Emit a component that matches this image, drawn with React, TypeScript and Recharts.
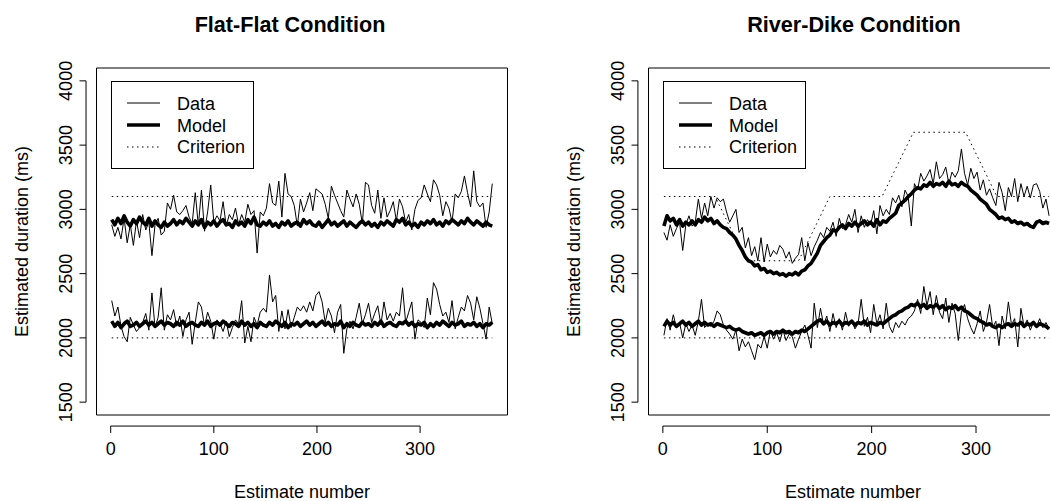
import React from "react";
import { LineChart, Line, XAxis, YAxis, ReferenceLine, ReferenceArea, Legend } from "recharts";

// estimates are numbered 1..370; data and model read every 3rd estimate
const DATA_STEP = 3;
const MODEL_STEP = 3;

const X_TICKS = [0, 100, 200, 300];
const Y_TICKS = [1500, 2000, 2500, 3000, 3500, 4000];

// ---- Flat-Flat condition ----
const FF_UP_DATA = [
  2880, 2790, 2860, 2770, 2930, 2740, 2880, 2720, 2910, 2780,
  2960, 2840, 2900, 2640, 2880, 2930, 2800, 2830, 3050, 3000,
  3110, 2980, 2960, 2990, 3030, 2940, 2890, 3130, 2870, 3150,
  2830, 2980, 3190, 2900, 2950, 2910, 3060, 2870, 2960, 2920,
  3010, 2880, 2960, 2900, 3040, 2960, 2990, 2660, 2980, 2950,
  3010, 3200, 3050, 3030, 3220, 2940, 3280, 3120, 3100, 3030,
  2870, 3080, 2980, 3050, 3130, 2990, 3160, 3140, 3120, 3040,
  2930, 3180, 3110, 3050, 2990, 2940, 3150, 3080, 3020, 3120,
  3040, 2890, 3210, 3190, 3030, 2970, 3150, 2930, 3090, 2940,
  2990, 3060, 2910, 3080, 3020, 2900, 2960, 2840, 3000, 3070,
  3090, 3190, 3120, 3060, 3230, 3190, 3110, 2950, 3060, 3010,
  2900, 3120, 3090, 3140, 3260, 3130, 3020, 3300, 3060, 3020,
  3050, 2860, 2980, 3200,
];
const FF_UP_MODEL = [
  2920, 2880, 2930, 2890, 2950, 2900, 2870, 2920, 2890, 2940,
  2900, 2880, 2930, 2870, 2910, 2880, 2860, 2900, 2870, 2890,
  2920, 2880, 2910, 2890, 2930, 2900, 2870, 2910, 2880, 2920,
  2860, 2900, 2880, 2910, 2870, 2900, 2920, 2880, 2890, 2860,
  2910, 2880, 2900, 2870, 2920, 2890, 2940, 2880, 2870, 2900,
  2880, 2910, 2870, 2890, 2860, 2900, 2880, 2910, 2870, 2890,
  2900, 2870, 2920, 2890, 2910, 2880, 2870, 2900, 2860, 2890,
  2920, 2880, 2900, 2870, 2890, 2910, 2870, 2900, 2880, 2860,
  2890, 2910, 2880, 2900, 2870, 2890, 2860, 2900, 2880, 2910,
  2890, 2870, 2920, 2900, 2930, 2880, 2900, 2870, 2890, 2860,
  2900, 2880, 2910, 2890, 2920, 2880, 2900, 2870, 2910, 2890,
  2920, 2900, 2880, 2910, 2890, 2930, 2900, 2880, 2910, 2890,
  2870, 2900, 2880, 2870,
];
const FF_LO_DATA = [
  2290, 2170, 2240, 2090, 2010, 1970, 2160, 2100, 2050, 2080,
  2120, 2190, 2060, 2350, 2080, 2160, 2390, 2060, 2180, 2140,
  2220, 2090, 2170, 2010, 2140, 2200, 1950, 2120, 2280, 2240,
  2090, 2200, 2130, 1990, 2140, 2110, 2050, 2130, 2010, 2080,
  2140, 2110, 2290, 1960, 2090, 1970, 2160, 2100, 2200, 2230,
  2200, 2490, 2280, 2330, 2050, 2210, 2070, 2220, 2080, 2160,
  2240, 2210, 2250, 2200, 2280, 2210, 2330, 2360, 2280, 2120,
  2230, 2170, 2040, 2200, 2260, 1880, 2070, 2130, 2070, 2160,
  2270, 2110, 2180, 2270, 2120, 2190, 2250, 2100, 2280, 2140,
  2190, 2130, 2200, 2170, 2390, 2120, 2200, 2280, 1990, 2140,
  2120, 2080, 2310, 2180, 2430, 2380, 2260, 2170, 2200, 2120,
  2290, 2070, 2160, 2240, 2210, 2330, 2270, 2140, 2320, 2230,
  2110, 1990, 2240, 2110,
];
const FF_LO_MODEL = [
  2130, 2090, 2120, 2080, 2110, 2130, 2090, 2100, 2120, 2090,
  2110, 2130, 2100, 2120, 2090, 2110, 2130, 2100, 2120, 2110,
  2090, 2120, 2100, 2130, 2090, 2110, 2120, 2100, 2090, 2120,
  2100, 2130, 2090, 2110, 2120, 2100, 2130, 2110, 2090, 2120,
  2110, 2090, 2130, 2100, 2120, 2090, 2110, 2080, 2120, 2100,
  2090, 2120, 2100, 2130, 2110, 2090, 2120, 2080, 2110, 2100,
  2120, 2090, 2110, 2130, 2100, 2120, 2090, 2110, 2130, 2100,
  2120, 2090, 2110, 2100, 2130, 2080, 2110, 2090, 2120, 2100,
  2090, 2120, 2100, 2110, 2090, 2120, 2100, 2130, 2090, 2110,
  2120, 2100, 2090, 2120, 2110, 2130, 2100, 2120, 2090, 2110,
  2100, 2120, 2080, 2110, 2090, 2120, 2100, 2130, 2110, 2090,
  2120, 2100, 2110, 2130, 2090, 2110, 2100, 2120, 2090, 2110,
  2080, 2110, 2100, 2120,
];
const FF_CRIT_X = [1, 370];
const FF_UP_CRIT = [3100, 3100];
const FF_LO_CRIT = [2000, 2000];

// ---- River-Dike condition ----
const RD_UP_DATA = [
  2820, 2760, 2880, 2790, 2850, 2900, 2680, 2880, 2950, 2870,
  2900, 3080, 2930, 3050, 2950, 3100, 3010, 3090, 3060, 3080,
  2980, 2900, 2950, 3000, 2820, 2860, 2700, 2780, 2640, 2710,
  2600, 2780, 2590, 2730, 2630, 2680, 2650, 2720, 2690, 2620,
  2670, 2580, 2620, 2650, 2780, 2600, 2740, 2640, 2710, 2760,
  2820, 2780, 2860, 2830, 2900, 2790, 2930, 2850, 2880, 2960,
  2900, 3000, 2820, 2950, 2860, 2920, 2880, 2990, 2810, 3030,
  2950, 3000, 2960, 3090, 3050, 3110, 3020, 3150, 3100, 2870,
  3200, 3150, 3280, 3220, 3260, 3310, 3200, 3370, 3240, 3270,
  3330, 3200, 3290, 3250, 3300, 3470, 3280, 3190, 3320, 3240,
  3290, 3150, 3230, 3110, 3160, 3090, 3030, 3210, 3130, 2990,
  3170, 3100, 3240, 3060, 3200, 3100, 3180, 3090, 3190, 3200,
  3140, 3010, 3080, 2950,
];
const RD_UP_MODEL = [
  2870, 2950, 2910, 2930, 2880, 2920, 2870, 2900, 2880, 2910,
  2880, 2920, 2900, 2940, 2910, 2930, 2890, 2910, 2880, 2860,
  2850, 2820, 2800, 2770, 2720, 2680, 2630, 2600, 2590, 2560,
  2570, 2530, 2540, 2510, 2520, 2500, 2510, 2490, 2500, 2480,
  2500, 2490, 2510, 2490, 2520, 2530, 2560, 2580, 2620, 2660,
  2720, 2750, 2780, 2800, 2840, 2830, 2860, 2880, 2850, 2890,
  2870, 2900, 2870, 2890, 2910, 2880, 2900, 2870, 2920, 2880,
  2910, 2900, 2930, 2950, 2970, 3030, 3050, 3070, 3100, 3120,
  3150, 3170, 3160, 3190, 3180, 3210, 3180, 3200, 3190, 3210,
  3180, 3220, 3190, 3200, 3180, 3210, 3190, 3180, 3150, 3130,
  3110, 3080, 3060, 3040, 3000, 2980, 2960, 2930, 2940, 2920,
  2930, 2900, 2910, 2890, 2900, 2880, 2890, 2870, 2860, 2900,
  2910, 2890, 2900, 2890,
];
const RD_LO_DATA = [
  2020, 2150, 2060, 2180, 2080, 2120, 2000, 2110, 2050, 2100,
  2020, 2130, 2300, 2080, 2110, 2090, 2130, 2210, 2180, 2100,
  2060, 2030, 1990, 2060, 1900, 1990, 1930, 1970, 1900, 1830,
  1950, 1920, 2010, 1920, 2060, 1990, 2040, 1970, 2060, 1980,
  2030, 2010, 1920, 1990, 2050, 2100, 2020, 1920, 2270, 2080,
  2230, 2100, 2170, 2050, 2190, 2080, 2150, 2060, 2200, 2090,
  2140, 2070, 2110, 2300, 2090, 2160, 2040, 2260, 2110, 2180,
  2070, 2270, 2090, 2040, 2120, 2080, 2130, 2100, 2150, 2170,
  2210, 2300, 2190, 2400, 2250, 2360, 2180, 2330, 2200, 2150,
  2310, 2120, 2270, 2190, 1980, 2200, 2260, 2150, 2080, 2030,
  2110, 2210, 2050, 2120, 2260, 2080, 2130, 1940, 2170, 2070,
  2280, 2100, 2150, 1930, 2230, 2090, 2140, 2060, 2120, 2090,
  2150, 2080, 2120, 2070,
];
const RD_LO_MODEL = [
  2090, 2130, 2100, 2120, 2090, 2110, 2130, 2100, 2120, 2090,
  2110, 2130, 2100, 2120, 2100, 2110, 2090, 2110, 2100, 2090,
  2080, 2090, 2070, 2060, 2070, 2050, 2040, 2030, 2040, 2020,
  2030, 2040, 2020, 2040, 2050, 2030, 2050, 2040, 2060, 2040,
  2050, 2030, 2050, 2040, 2060, 2050, 2070, 2090, 2110, 2130,
  2140, 2110, 2130, 2100, 2120, 2110, 2130, 2100, 2120, 2110,
  2130, 2100, 2120, 2110, 2130, 2100, 2120, 2110, 2100, 2120,
  2110, 2130, 2150, 2170, 2180, 2200, 2210, 2230, 2240, 2260,
  2250, 2270, 2240, 2260, 2230, 2250, 2240, 2260, 2230, 2250,
  2220, 2240, 2230, 2250, 2220, 2240, 2210, 2200, 2180, 2160,
  2150, 2130, 2120, 2100, 2110, 2090, 2080, 2100, 2080, 2100,
  2110, 2090, 2110, 2100, 2120, 2090, 2110, 2100, 2120, 2090,
  2110, 2100, 2090, 2070,
];
const RD_UP_CRIT_X = [1, 50, 80, 130, 160, 210, 240, 290, 320, 370];
const RD_UP_CRIT = [3100, 3100, 2600, 2600, 3100, 3100, 3600, 3600, 3100, 3100];
const RD_LO_CRIT_X = [1, 370];
const RD_LO_CRIT = [2000, 2000];

// ---- layout ----
const W = 1050;
const H = 501;
const PLOT_TOP = 68;
const PLOT_BOTTOM = 415;
const X_DOMAIN: [number, number] = [-13.76, 384.76];
const Y_DOMAIN: [number, number] = [1400, 4100];
// R draws its axes a little outside the box
const AXIS_LINE_Y = 1314;
const AXIS_LINE_X = -23.9;
const FONT = '"Liberation Sans", Arial, Helvetica, sans-serif';
const MODEL_WIDTH = 3.6;

type Pt = { x: number; y: number };
const everyStep = (vals: number[], step: number): Pt[] =>
  vals.map((y, i) => ({ x: 1 + i * step, y }));
const zip = (xs: number[], ys: number[]): Pt[] => xs.map((x, i) => ({ x, y: ys[i] }));

const XTick = (props: any) => {
  const { x, y, payload } = props;
  return (
    <g>
      <line x1={x} x2={x} y1={y + 11} y2={y + 18} stroke="#000" />
      <text x={x} y={y + 40} textAnchor="middle" fontSize={18} fontFamily={FONT} fill="#000">
        {payload.value}
      </text>
    </g>
  );
};

const YTick = (props: any) => {
  const { x, y, payload } = props;
  const tx = x - 24.7;
  return (
    <g>
      <line x1={x - 10.5} x2={x - 17} y1={y} y2={y} stroke="#000" />
      <text
        x={tx}
        y={y}
        transform={`rotate(-90, ${tx}, ${y})`}
        textAnchor="middle"
        fontSize={18}
        fontFamily={FONT}
        fill="#000"
      >
        {payload.value}
      </text>
    </g>
  );
};

const LegendBox = () => (
  <svg width={143} height={88} style={{ display: "block" }}>
    <rect x={0.5} y={0.5} width={142} height={87} fill="#fff" stroke="#000" />
    <line x1={16} x2={49} y1={22} y2={22} stroke="#000" strokeWidth={1} />
    <line x1={16} x2={49} y1={44} y2={44} stroke="#000" strokeWidth={3.3} />
    <line x1={16} x2={49} y1={66} y2={66} stroke="#000" strokeWidth={1} strokeDasharray="1.5 3.5" />
    <g fontSize={18} fontFamily={FONT} fill="#000">
      <text x={66} y={29}>Data</text>
      <text x={66} y={50.7}>Model</text>
      <text x={66} y={72.3}>Criterion</text>
    </g>
  </svg>
);

type Props = {
  left: number;
  width: number;
  plotLeft: number;
  plotWidth: number;
  title: string;
  titleX: number;
  xLabelX: number;
  data: Pt[][];
  model: Pt[][];
  crit: Pt[][];
};

function Panel({ left, width, plotLeft, plotWidth, title, titleX, xLabelX, data, model, crit }: Props) {
  return (
    <div style={{ position: "absolute", left, top: 0, width, height: H }}>
      <LineChart
        width={width}
        height={H}
        margin={{ top: PLOT_TOP, right: width - plotLeft - plotWidth, bottom: 0, left: 0 }}
      >
        <XAxis
          type="number"
          dataKey="x"
          domain={X_DOMAIN}
          allowDataOverflow
          ticks={X_TICKS}
          interval={0}
          height={H - PLOT_BOTTOM}
          axisLine={false}
          tickLine={false}
          tickSize={0}
          tickMargin={0}
          tick={XTick}
        />
        <YAxis
          type="number"
          dataKey="y"
          domain={Y_DOMAIN}
          allowDataOverflow
          ticks={Y_TICKS}
          interval={0}
          width={plotLeft}
          axisLine={false}
          tickLine={false}
          tickSize={0}
          tickMargin={0}
          tick={YTick}
        />
        <ReferenceLine
          segment={[{ x: 0, y: AXIS_LINE_Y }, { x: 300, y: AXIS_LINE_Y }]}
          ifOverflow="visible"
          stroke="#000"
        />
        <ReferenceLine
          segment={[{ x: AXIS_LINE_X, y: 1500 }, { x: AXIS_LINE_X, y: 4000 }]}
          ifOverflow="visible"
          stroke="#000"
        />
        {data.map((pts, i) => (
          <Line
            key={"d" + i}
            data={pts}
            dataKey="y"
            type="linear"
            dot={false}
            activeDot={false}
            stroke="#000"
            strokeWidth={1}
            isAnimationActive={false}
          />
        ))}
        {crit.map((pts, i) => (
          <Line
            key={"c" + i}
            data={pts}
            dataKey="y"
            type="linear"
            dot={false}
            activeDot={false}
            stroke="#000"
            strokeWidth={1}
            strokeDasharray="1.5 3.5"
            isAnimationActive={false}
          />
        ))}
        {model.map((pts, i) => (
          <Line
            key={"m" + i}
            data={pts}
            dataKey="y"
            type="linear"
            dot={false}
            activeDot={false}
            stroke="#000"
            strokeWidth={MODEL_WIDTH}
            strokeLinejoin="round"
            isAnimationActive={false}
          />
        ))}
        <ReferenceArea
          x1={X_DOMAIN[0]}
          x2={X_DOMAIN[1]}
          y1={Y_DOMAIN[0]}
          y2={Y_DOMAIN[1]}
          fill="none"
          stroke="#000"
          strokeWidth={1}
          ifOverflow="visible"
        />
        <Legend
          content={LegendBox}
          layout="vertical"
          align="center"
          verticalAlign="middle"
          wrapperStyle={{ left: plotLeft + 14.5, top: 81, width: 143, height: 88 }}
        />
      </LineChart>
      <svg
        width={width}
        height={H}
        style={{ position: "absolute", left: 0, top: 0, pointerEvents: "none" }}
        fontFamily={FONT}
      >
        <text x={titleX - left} y={31.7} textAnchor="middle" fontSize={21.6} fontWeight="bold" fill="#000">
          {title}
        </text>
        <text x={xLabelX - left} y={497.5} textAnchor="middle" fontSize={18} fill="#000">
          Estimate number
        </text>
        <text
          x={plotLeft - 69}
          y={241.5}
          transform={`rotate(-90, ${plotLeft - 69}, 241.5)`}
          textAnchor="middle"
          fontSize={18}
          fill="#000"
        >
          Estimated duration (ms)
        </text>
      </svg>
    </div>
  );
}

export default function App() {
  return (
    <div style={{ position: "relative", width: W, height: H, overflow: "hidden", background: "#fff" }}>
      <style>{"body{margin:0}"}</style>
      <Panel
        left={0}
        width={525}
        plotLeft={96.5}
        plotWidth={411}
        title="Flat-Flat Condition"
        titleX={290}
        xLabelX={302}
        data={[everyStep(FF_UP_DATA, DATA_STEP), everyStep(FF_LO_DATA, DATA_STEP)]}
        model={[everyStep(FF_UP_MODEL, MODEL_STEP), everyStep(FF_LO_MODEL, MODEL_STEP)]}
        crit={[zip(FF_CRIT_X, FF_UP_CRIT), zip(FF_CRIT_X, FF_LO_CRIT)]}
      />
      <Panel
        left={525}
        width={560}
        plotLeft={123.5}
        plotWidth={416}
        title="River-Dike Condition"
        titleX={854}
        xLabelX={853}
        data={[everyStep(RD_UP_DATA, DATA_STEP), everyStep(RD_LO_DATA, DATA_STEP)]}
        model={[everyStep(RD_UP_MODEL, MODEL_STEP), everyStep(RD_LO_MODEL, MODEL_STEP)]}
        crit={[zip(RD_UP_CRIT_X, RD_UP_CRIT), zip(RD_LO_CRIT_X, RD_LO_CRIT)]}
      />
    </div>
  );
}
